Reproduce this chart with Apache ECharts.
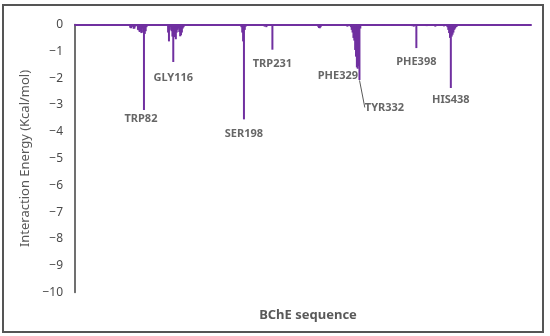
<!DOCTYPE html>
<html>
<head>
<meta charset="utf-8">
<script src="https://cdn.jsdelivr.net/npm/echarts@6/dist/echarts.min.js"></script>
<style>
  html, body { margin: 0; padding: 0; background: #fff; }
  #chart { width: 550px; height: 336px; }
</style>
</head>
<body>
<div id="chart"></div>
<script>
// Per-residue interaction energy (Kcal/mol), residues not listed are ~0
const residues = [20, 35, 40, 60, 66, 67, 68, 70, 71, 72, 75, 76, 77, 78, 79, 80, 81, 82, 83, 84, 85,
    100, 105, 110, 111, 112, 113, 114, 115, 116, 117, 118, 119, 120, 121, 122, 123, 124, 125, 126, 127, 128,
    135, 150, 160, 190, 195, 196, 197, 198, 199, 200, 210, 222, 224, 225, 231, 240, 260, 270,
    284, 285, 286, 287, 288, 300, 310, 318, 322, 323, 324, 325, 326, 327, 328, 329, 330, 331, 332, 333,
    340, 350, 360, 370, 385, 393, 395, 398, 400, 410, 420, 425, 430,
    434, 435, 436, 437, 438, 439, 440, 441, 442, 443, 444, 445, 460, 480, 500, 515, 529];
const energies = [-0.03, -0.04, -0.05, -0.04, -0.12, -0.14, -0.1, -0.16, -0.15, -0.08, -0.2, -0.22, -0.28, -0.25, -0.32, -0.15, -0.3, -3.19, -0.35, -0.25, -0.1,
    -0.04, -0.05, -0.3, -0.63, -0.2, -0.1, -0.25, -0.45, -1.40, -0.47, -0.44, -0.55, -0.3, -0.2, -0.15, -0.28, -0.44, -0.4, -0.3, -0.15, -0.1,
    -0.05, -0.04, -0.03, -0.05, -0.1, -0.3, -0.63, -3.54, -0.2, -0.08, -0.04, -0.08, -0.1, -0.06, -0.94, -0.04, -0.05, -0.03,
    -0.08, -0.13, -0.14, -0.1, -0.05, -0.04, -0.05, -0.08, -0.1, -0.2, -0.3, -0.5, -0.6, -0.95, -1.2, -1.6, -1.65, -1.55, -2.07, -0.15,
    -0.04, -0.05, -0.04, -0.05, -0.04, -0.06, -0.08, -0.88, -0.05, -0.06, -0.08, -0.05, -0.07,
    -0.1, -0.2, -0.32, -0.5, -2.37, -0.45, -0.38, -0.3, -0.2, -0.15, -0.1, -0.08, -0.04, -0.05, -0.04, -0.03, -0.03];

// Labelled hot-spot residues
const peakNames = ['TRP82', 'GLY116', 'SER198', 'TRP231', 'PHE329', 'TYR332', 'PHE398', 'HIS438'];
const peakResidues = [82, 116, 198, 231, 329, 332, 398, 438];
const peakEnergies = [-3.19, -1.40, -3.54, -0.94, -1.6, -2.07, -0.88, -2.37];

const yTicks = [0, -1, -2, -3, -4, -5, -6, -7, -8, -9, -10];

const PURPLE = '#7030A0';
const TEXT = '#595959';
const FONT = '"Noto Sans", sans-serif';

// label shifts from each peak tip (px)
const LABEL_SHIFT = [[-3, 2], [0, 9], [0, 8], [0, 8], [-19, 2], [25, 21], [0, 7], [0, 5]];

const chart = echarts.init(document.getElementById('chart'));
chart.setOption({
    animation: false,
    textStyle: { fontFamily: FONT },
    title: {
        text: 'BChE sequence',
        left: 303,
        top: 304,
        textAlign: 'center',
        textStyle: { fontSize: 13, fontWeight: 'bold', color: TEXT, fontFamily: FONT }
    },
    graphic: [{
        type: 'rect',
        shape: { x: 3, y: 5, width: 540, height: 327 },
        style: { fill: 'none', stroke: '#555', lineWidth: 2 },
        silent: true
    }],
    grid: { left: 75, right: 19, top: 24.5, bottom: 43.5 },
    xAxis: {
        type: 'value',
        min: 2,
        max: 531,
        axisLine: { onZero: true, lineStyle: { color: PURPLE, width: 2 } },
        axisTick: { show: false },
        axisLabel: { show: false },
        splitLine: { show: false }
    },
    yAxis: {
        type: 'value',
        min: -10,
        max: 0,
        interval: 1,
        name: 'Interaction Energy (Kcal/mol)',
        nameLocation: 'middle',
        nameGap: 43,
        nameTextStyle: { fontSize: 13, color: TEXT, fontFamily: FONT },
        axisLine: { show: true, lineStyle: { color: '#404040', width: 1.5 } },
        axisTick: { show: false },
        axisLabel: {
            fontSize: 12,
            color: '#4a4a4a',
            margin: 12,
            formatter: v => (yTicks.includes(v) ? String(v).replace('-', '\u2212') : '')
        },
        splitLine: { show: false }
    },
    series: [{
        type: 'bar',
        data: residues.map((r, i) => [r, energies[i]]),
        barWidth: 2,
        itemStyle: { color: PURPLE },
        silent: true
    }, {
        type: 'scatter',
        symbolSize: 1,
        itemStyle: { color: 'rgba(0,0,0,0)' },
        data: peakResidues.map((r, i) => ({
            value: [r, peakEnergies[i]],
            name: peakNames[i],
            labelLine: { show: peakNames[i] === 'TYR332' }
        })),
        label: {
            show: true,
            position: 'bottom',
            distance: 0,
            formatter: p => p.name,
            fontSize: 11,
            fontWeight: 'bold',
            color: '#404040',
            lineHeight: 12
        },
        labelLayout: p => ({ dx: LABEL_SHIFT[p.dataIndex][0], dy: LABEL_SHIFT[p.dataIndex][1] }),
        labelLine: { lineStyle: { color: '#595959', width: 1 } },
        silent: true
    }]
});
</script>
</body>
</html>
